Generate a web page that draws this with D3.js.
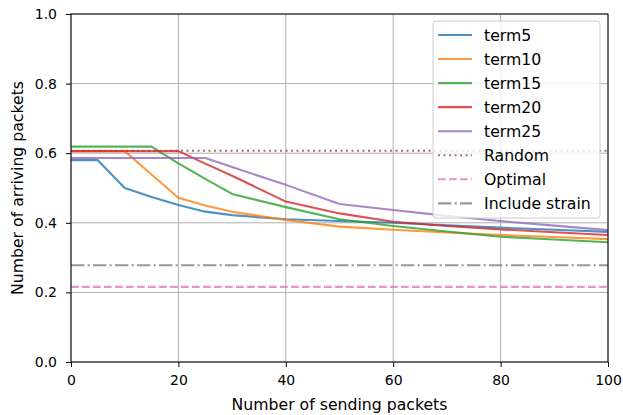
<!DOCTYPE html>
<html>
<head>
<meta charset="utf-8">
<script src="https://cdn.jsdelivr.net/npm/d3@7"></script>
<style>
  html, body { margin: 0; padding: 0; background: #fff; }
  svg { display: block; font-family: "DejaVu Sans", sans-serif; }
</style>
</head>
<body>
<svg id="chart" width="623" height="415"></svg>
<script>
// ---- data ----
const xValues = [0, 5, 10, 15, 20, 25, 30, 40, 50, 60, 70, 80, 90, 100];
const term5  = [0.580, 0.580, 0.500, 0.474, 0.451, 0.432, 0.422, 0.410, 0.405, 0.400, 0.393, 0.386, 0.380, 0.374];
const term10 = [0.606, 0.606, 0.606, 0.539, 0.472, 0.450, 0.432, 0.408, 0.389, 0.380, 0.372, 0.365, 0.359, 0.353];
const term15 = [0.619, 0.619, 0.619, 0.619, 0.571, 0.526, 0.483, 0.445, 0.410, 0.391, 0.375, 0.360, 0.352, 0.344];
const term20 = [0.606, 0.606, 0.606, 0.606, 0.606, 0.570, 0.535, 0.461, 0.427, 0.403, 0.391, 0.381, 0.373, 0.365];
const term25 = [0.586, 0.586, 0.586, 0.586, 0.586, 0.586, 0.560, 0.509, 0.454, 0.437, 0.420, 0.405, 0.392, 0.379];
const seriesNames = ["term5", "term10", "term15", "term20", "term25"];
const seriesValues = [term5, term10, term15, term20, term25];
const seriesColors = ["#1f77b4", "#ff7f0e", "#2ca02c", "#d62728", "#9467bd"];

const refNames = ["Random", "Optimal", "Include strain"];
const refValues = [0.607, 0.216, 0.278];
const refColors = ["#8c564b", "#e377c2", "#7f7f7f"];
const refDashes = ["2.1,3.4", "7.7,3.3", "13.3,3.3,2.1,3.3"];

const xTicks = [0, 20, 40, 60, 80, 100];
const yTicks = [0.0, 0.2, 0.4, 0.6, 0.8, 1.0];
const xLabel = "Number of sending packets";
const yLabel = "Number of arriving packets";

// ---- layout ----
const W = 623, H = 415;
const margin = { left: 71, right: 15, top: 14, bottom: 53 };
const iw = W - margin.left - margin.right;
const ih = H - margin.top - margin.bottom;
const TICK_FS = 14;
const LABEL_FS = 15.7;

const svg = d3.select("#chart");
const g = svg.append("g").attr("transform", `translate(${margin.left},${margin.top})`);

const x = d3.scaleLinear().domain([0, 100]).range([0, iw]);
const y = d3.scaleLinear().domain([0, 1]).range([ih, 0]);

// grid
g.append("g").selectAll("line").data(xTicks).join("line")
  .attr("x1", d => x(d)).attr("x2", d => x(d)).attr("y1", 0).attr("y2", ih)
  .attr("stroke", "#b0b0b0").attr("stroke-width", 1);
g.append("g").selectAll("line").data(yTicks).join("line")
  .attr("y1", d => y(d)).attr("y2", d => y(d)).attr("x1", 0).attr("x2", iw)
  .attr("stroke", "#b0b0b0").attr("stroke-width", 1);

// reference lines
refValues.forEach((v, i) => {
  g.append("line")
    .attr("x1", x(0)).attr("x2", x(100)).attr("y1", y(v)).attr("y2", y(v))
    .attr("stroke", refColors[i]).attr("stroke-width", 2.1)
    .attr("stroke-dasharray", refDashes[i]).attr("opacity", 0.8);
});

// series lines
const line = d3.line().x(d => x(d[0])).y(d => y(d[1]));
seriesValues.forEach((vals, i) => {
  g.append("path")
    .datum(xValues.map((xv, j) => [xv, vals[j]]))
    .attr("d", line)
    .attr("fill", "none")
    .attr("stroke", seriesColors[i])
    .attr("stroke-width", 2.1)
    .attr("stroke-linejoin", "round")
    .attr("opacity", 0.8);
});

// axes
const xAxis = g.append("g").attr("transform", `translate(0,${ih})`)
  .call(d3.axisBottom(x).tickValues(xTicks).tickFormat(d3.format("d")).tickSize(5).tickPadding(8));
const yAxis = g.append("g")
  .call(d3.axisLeft(y).tickValues(yTicks).tickFormat(d3.format(".1f")).tickSize(5).tickPadding(9));
[xAxis, yAxis].forEach(a => {
  a.select(".domain").remove();
  a.selectAll("text").attr("font-size", TICK_FS).attr("font-family", "DejaVu Sans").attr("fill", "#000");
  a.selectAll("line").attr("stroke", "#000").attr("stroke-width", 1);
});

// frame
g.append("rect").attr("x", 0).attr("y", 0).attr("width", iw).attr("height", ih)
  .attr("fill", "none").attr("stroke", "#000").attr("stroke-width", 1);

// axis labels
svg.append("text").attr("x", margin.left + iw / 2).attr("y", 409.5)
  .attr("text-anchor", "middle").attr("font-size", LABEL_FS).text(xLabel);
svg.append("text")
  .attr("transform", `translate(23,${margin.top + ih / 2}) rotate(-90)`)
  .attr("text-anchor", "middle").attr("font-size", LABEL_FS).text(yLabel);

// legend
const lg = svg.append("g").attr("transform", "translate(433,21)");
lg.append("rect").attr("x", 0).attr("y", 0).attr("width", 167).attr("height", 197)
  .attr("rx", 3).attr("fill", "#fff").attr("fill-opacity", 0.8)
  .attr("stroke", "#cccccc").attr("stroke-width", 1);
const legendItems = seriesNames.map((n, i) => ({ name: n, color: seriesColors[i], dash: null }))
  .concat(refNames.map((n, i) => ({ name: n, color: refColors[i], dash: refDashes[i] })));
legendItems.forEach((it, i) => {
  const cy = 14 + i * 24.05;
  lg.append("line").attr("x1", 5).attr("x2", 39).attr("y1", cy).attr("y2", cy)
    .attr("stroke", it.color).attr("stroke-width", 2.1).attr("opacity", 0.8)
    .attr("stroke-dasharray", it.dash);
  lg.append("text").attr("x", 51).attr("y", cy).attr("dy", "0.36em")
    .attr("font-size", LABEL_FS).attr("fill", "#000").text(it.name);
});
</script>
</body>
</html>
